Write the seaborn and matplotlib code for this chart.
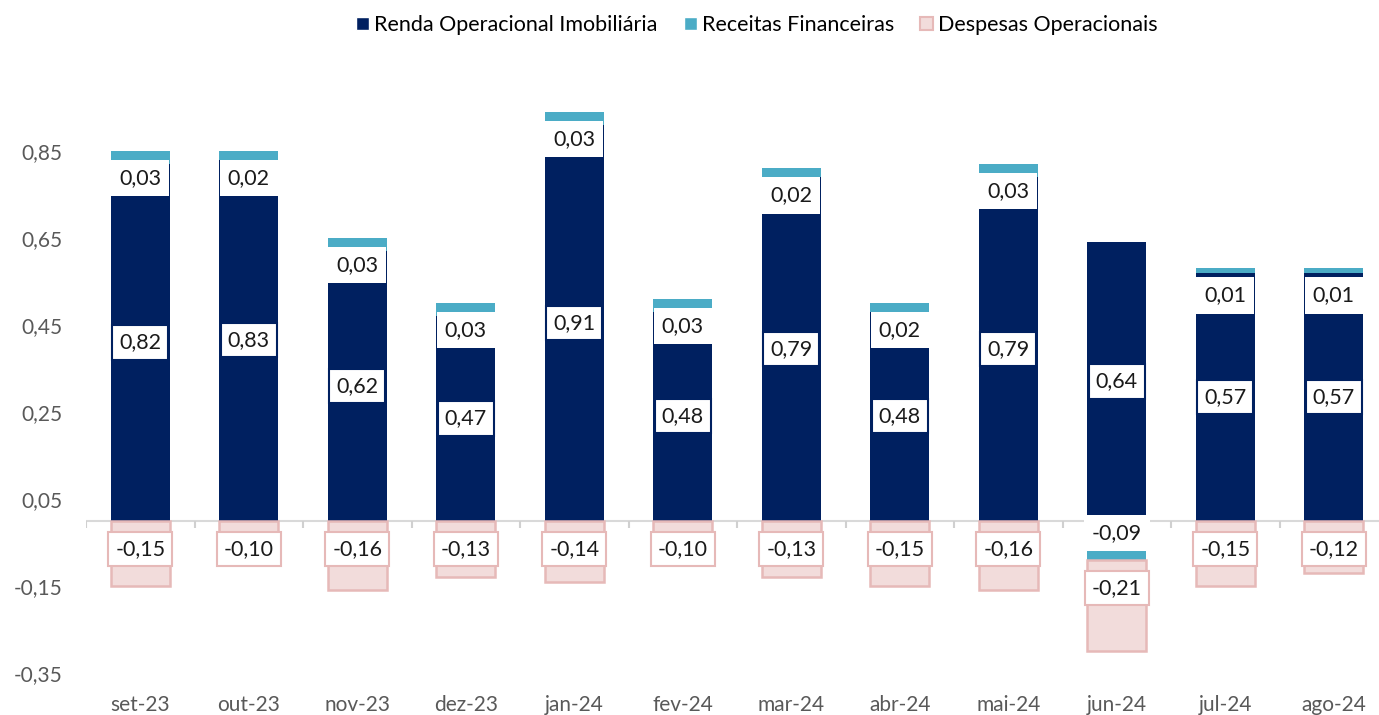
import numpy as np
import pandas as pd
import seaborn as sns
import matplotlib.pyplot as plt
from matplotlib.patches import Patch

# dados
meses = ['set-23', 'out-23', 'nov-23', 'dez-23', 'jan-24', 'fev-24',
         'mar-24', 'abr-24', 'mai-24', 'jun-24', 'jul-24', 'ago-24']
renda = [0.82, 0.83, 0.62, 0.47, 0.91, 0.48, 0.79, 0.48, 0.79, 0.64, 0.57, 0.57]
receitas = [0.03, 0.02, 0.03, 0.03, 0.03, 0.03, 0.02, 0.02, 0.03, -0.09, 0.01, 0.01]
despesas = [-0.15, -0.10, -0.16, -0.13, -0.14, -0.10, -0.13, -0.15, -0.16, -0.21, -0.15, -0.12]
yticks = [-0.35, -0.15, 0.05, 0.25, 0.45, 0.65, 0.85]

AZUL = '#002060'
TEAL = '#4BACC6'
ROSA = '#F2DCDB'
ROSA_BORDA = '#E6B9B8'
CINZA = '#595959'

df = pd.DataFrame({'mes': meses, 'renda': renda, 'receitas': receitas, 'despesas': despesas})
# empilhamento estilo Excel: positivos sobem a partir de 0, negativos descem
df['base_rec'] = np.where(df['receitas'] >= 0, df['renda'], 0.0)
df['base_desp'] = np.minimum(df['receitas'], 0.0)

sns.set_theme(style='white')
plt.rcParams['font.family'] = ['Lato', 'DejaVu Sans']

fig = plt.figure(figsize=(13.79, 7.15), dpi=100)
ax = fig.add_axes([86 / 1379, 42 / 715, 1302 / 1379, 609 / 715])

ax.axhline(0, color='#D9D9D9', lw=1.5, zorder=0.5)
ax.vlines(np.arange(-0.5, 12), 0, -7 / 435, color='#D0D0D0', lw=1.5, zorder=0.5)

sns.barplot(data=df, x='mes', y='renda', color=AZUL, saturation=1, width=0.54,
            errorbar=None, linewidth=0, ax=ax)
sns.barplot(data=df, x='mes', y='receitas', color=TEAL, saturation=1, width=0.54,
            errorbar=None, linewidth=0, bottom=df['base_rec'].to_numpy(), ax=ax)
sns.barplot(data=df, x='mes', y='despesas', color=ROSA, saturation=1, width=0.54,
            errorbar=None, linewidth=1.8, edgecolor=ROSA_BORDA,
            bottom=df['base_desp'].to_numpy(), ax=ax)


def fmt(v):
    return f'{v:.2f}'.replace('.', ',')


for i, row in df.iterrows():
    # renda: centro da barra
    ax.annotate(fmt(row['renda']), (i, row['renda'] / 2), ha='center', va='center',
                fontsize=15.5, color='#1a1a1a', zorder=5,
                bbox=dict(boxstyle='square,pad=0.33', fc='white', ec=AZUL, lw=1.5))
    # receitas: dentro da ponta
    fim = row['base_rec'] + row['receitas']
    s = 1 if row['receitas'] >= 0 else -1
    ax.annotate(fmt(row['receitas']), (i, fim), xytext=(0, -s * 27), textcoords='offset pixels',
                ha='center', va='center', fontsize=15.5, color='#1a1a1a', zorder=4,
                bbox=dict(boxstyle='square,pad=0.38', fc='white', ec='none'))
    # despesas: dentro da base
    ax.annotate(fmt(row['despesas']), (i, row['base_desp']), xytext=(0, -28), textcoords='offset pixels',
                ha='center', va='center', fontsize=15.5, color='#1a1a1a', zorder=5,
                bbox=dict(boxstyle='square,pad=0.33', fc='white', ec=ROSA_BORDA, lw=1.5))

ax.set_xlim(-0.5, 11.5)
ax.set_ylim(-0.35, 1.05)
ax.set_yticks(yticks)
ax.set_yticklabels([fmt(v) for v in yticks])
ax.set_xlabel('')
ax.set_ylabel('')
ax.tick_params(axis='y', length=0, pad=17, labelsize=15, labelcolor=CINZA)
ax.tick_params(axis='x', length=0, pad=16, labelsize=15, labelcolor=CINZA)
for sp in ax.spines.values():
    sp.set_visible(False)

handles = [Patch(fc=AZUL), Patch(fc=TEAL), Patch(fc=ROSA, ec=ROSA_BORDA, lw=1.5)]
labels = ['Renda Operacional Imobiliária', 'Receitas Financeiras', 'Despesas Operacionais']
fig.legend(handles, labels, loc='center', bbox_to_anchor=(757 / 1379, 1 - 25 / 715), ncol=3,
           frameon=False, fontsize=15.5, handlelength=0.6, handleheight=0.6,
           handletextpad=0.25, columnspacing=1.2, labelcolor='#000000')

fig.savefig('out.png', dpi=100)
